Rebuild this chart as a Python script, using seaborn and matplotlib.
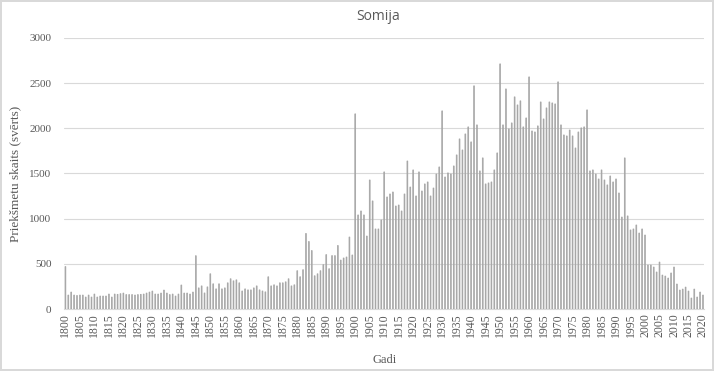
import matplotlib
matplotlib.use('Agg')
import seaborn as sns
import matplotlib.pyplot as plt
import numpy as np
import pandas as pd

# years 1800..2020
years = list(range(1800, 2021))

vals_1800s = [470, 155, 188, 155, 150, 155, 155, 133, 155, 133,
              166, 133, 144, 144, 144, 166, 133, 166, 163, 170,
              177, 160, 160, 160, 155, 160, 163, 166, 177, 188,
              199, 166, 166, 177, 210, 177, 160, 166, 144, 166,
              266, 177, 177, 166, 188, 590, 234, 256, 178, 245,
              390, 279, 223, 279, 223, 234, 290, 335, 312, 323,
              290, 200, 223, 212, 212, 234, 256, 212, 200, 190,
              357, 256, 268, 256, 290, 290, 301, 335, 256, 268,
              424, 357, 435, 836, 747, 647, 368, 390, 424, 491,
              602, 446, 591, 591, 703, 542, 565, 576, 797, 598]

vals_1900s = [2159, 1041, 1085, 1041, 808, 1428, 1196, 886, 886, 985,
              1517, 1240, 1273, 1295, 1140, 1151, 1085, 1273, 1638, 1350,
              1539, 1251, 1517, 1306, 1384, 1406, 1251, 1339, 1494, 1572,
              2192, 1461, 1506, 1494, 1583, 1705, 1882, 1760, 1937, 2015,
              1849, 2469, 2037, 1528, 1672, 1384, 1395, 1406, 1539, 1727,
              2712, 2037, 2435, 1993, 2059, 2347, 2258, 2303, 2015, 2114,
              2568, 1970, 1959, 2026, 2291, 2103, 2225, 2291, 2280, 2269,
              2513, 2037, 1926, 1915, 1981, 1915, 1782, 1959, 2004, 2015,
              2203, 1528, 1539, 1494, 1439, 1539, 1428, 1373, 1472, 1406,
              1439, 1284, 1018, 1672, 1030, 875, 886, 930, 841, 886]

vals_2000s = [819, 487, 487, 465, 410, 520, 376, 365, 343, 399,
              465, 277, 210, 221, 243, 199, 122, 221, 133, 188,
              155]

counts = vals_1800s + vals_1900s + vals_2000s
df = pd.DataFrame({'Gadi': years, 'skaits': counts})

sns.set_style('white')
serif = ['Liberation Serif', 'DejaVu Serif']

fig = plt.figure(figsize=(7.14, 3.71), dpi=100, edgecolor='#d9d9d9', linewidth=1.5)
ax = fig.add_axes([0.0896, 0.167, 0.897, 0.731])

sns.barplot(data=df, x='Gadi', y='skaits', color='#a6a6a6', width=0.3,
            saturation=1, ax=ax, zorder=3, edgecolor='#a6a6a6',
            linewidth=0.5)
for p in ax.patches:
    p.set_snap(False)

ax.set_xlim(-0.5, len(years) - 0.5)
ax.set_ylim(0, 3000)
ax.set_yticks(range(0, 3001, 500))
ax.set_yticklabels([str(v) for v in range(0, 3001, 500)], family=serif,
                   fontsize=8, color='#595959')
ax.set_xticks(range(0, len(years), 5))
ax.set_xticklabels([str(y) for y in years[::5]], rotation=90, family=serif,
                   fontsize=8.5, color='#595959')
ax.tick_params(axis='x', length=0, pad=3)
ax.tick_params(axis='y', length=0, pad=9)
ax.grid(axis='y', color='#d9d9d9', linewidth=0.8, zorder=0)
ax.set_axisbelow(True)
for s in ['top', 'right', 'left']:
    ax.spines[s].set_visible(False)
ax.spines['bottom'].set_color('#d9d9d9')

ax.set_xlabel('Gadi', family=serif, fontsize=9, color='#595959', labelpad=12)
ax.set_ylabel('Priekšmetu skaits (svērts)', family=serif, fontsize=9.5,
              color='#595959', labelpad=6)
fig.text(0.53, 0.955, 'Somija', ha='center', va='center', fontsize=10,
         family=['Open Sans', 'DejaVu Sans'], color='#595959')

fig.savefig('out.png', dpi=100, edgecolor=fig.get_edgecolor())
